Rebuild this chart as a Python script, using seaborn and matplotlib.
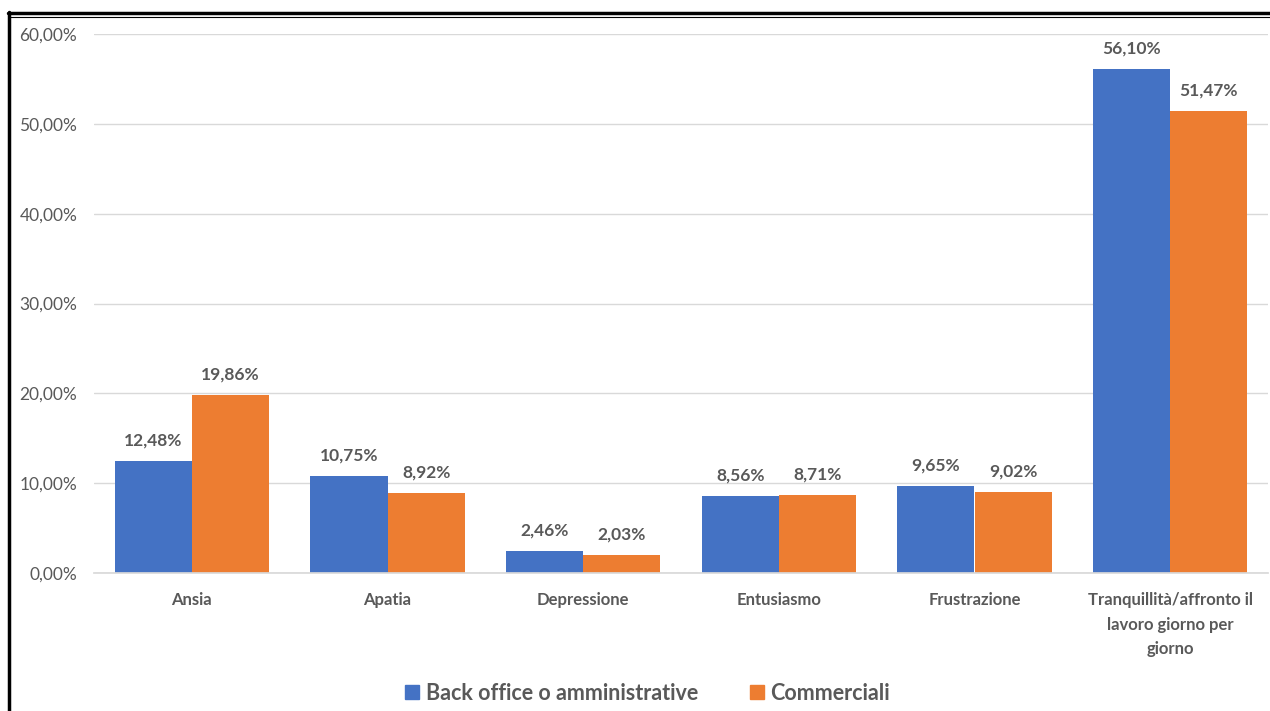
import matplotlib
matplotlib.use("Agg")
import matplotlib.pyplot as plt
import seaborn as sns
import pandas as pd
from matplotlib.lines import Line2D
from matplotlib.patches import Patch

categories = ["Ansia", "Apatia", "Depressione", "Entusiasmo", "Frustrazione",
              "Tranquillità/affronto il\nlavoro giorno per\ngiorno"]
series_names = ["Back office o amministrative", "Commerciali"]
back_office = [12.48, 10.75, 2.46, 8.56, 9.65, 56.10]
commerciali = [19.86, 8.92, 2.03, 8.71, 9.02, 51.47]
y_ticks = [0, 10, 20, 30, 40, 50, 60]
colors = ["#4472C4", "#ED7D31"]

df = pd.DataFrame({
    "cat": categories * 2,
    "serie": [series_names[0]] * len(categories) + [series_names[1]] * len(categories),
    "val": back_office + commerciali,
})

sns.set_theme(style="white")
plt.rcParams["font.family"] = ["Lato", "DejaVu Sans"]
text_col = "#595959"

fig = plt.figure(figsize=(12.7, 7.11), dpi=100)
ax = fig.add_axes([94 / 1270, 1 - 573 / 711, (1268 - 94) / 1270, (573 - 34) / 711])

sns.barplot(data=df, x="cat", y="val", hue="serie", palette=colors,
            width=0.79, saturation=1, ax=ax, legend=False, linewidth=0)

def fmt(v):
    return f"{v:.2f}".replace(".", ",") + "%"

for cont in ax.containers:
    ax.bar_label(cont, labels=[fmt(b.get_height()) for b in cont], padding=9,
                 fontsize=12.5, fontweight="bold", color=text_col)

ax.set_ylim(0, 60)
ax.set_yticks(y_ticks)
ax.set_yticklabels([f"{t:.2f}".replace(".", ",") + "%" for t in y_ticks])
ax.set_xlim(-0.5, len(categories) - 0.5)
ax.set_xlabel("")
ax.set_ylabel("")
ax.grid(axis="y", color="#d9d9d9", linewidth=1)
ax.set_axisbelow(True)
for s in ["top", "right", "left"]:
    ax.spines[s].set_visible(False)
ax.spines["bottom"].set_color("#d9d9d9")
ax.tick_params(axis="y", length=0, pad=12, labelsize=12.5, labelcolor=text_col)
ax.tick_params(axis="x", length=0, pad=14, labelsize=12, labelcolor=text_col)
for lbl in ax.get_xticklabels():
    lbl.set_fontweight("bold")
    lbl.set_linespacing(1.65)

handles = [Patch(color=c) for c in colors]
fig.legend(handles, series_names, loc="center", bbox_to_anchor=(0.51, 1 - 693 / 711),
           ncol=2, frameon=False, handlelength=0.65, handleheight=0.65,
           handletextpad=0.3, columnspacing=2.4, labelcolor=text_col,
           prop={"weight": "bold", "size": 15.5})

# frame lines
fig.add_artist(Line2D([8 / 1270, 1], [1 - 13 / 711] * 2, color="black", linewidth=2.5,
                      transform=fig.transFigure))
fig.add_artist(Line2D([8 / 1270, 1], [1 - 17 / 711] * 2, color="black", linewidth=0.8,
                      transform=fig.transFigure))
fig.add_artist(Line2D([8.5 / 1270] * 2, [0, 1 - 12 / 711], color="black", linewidth=2.5,
                      transform=fig.transFigure))

fig.savefig("out.png", dpi=100)
